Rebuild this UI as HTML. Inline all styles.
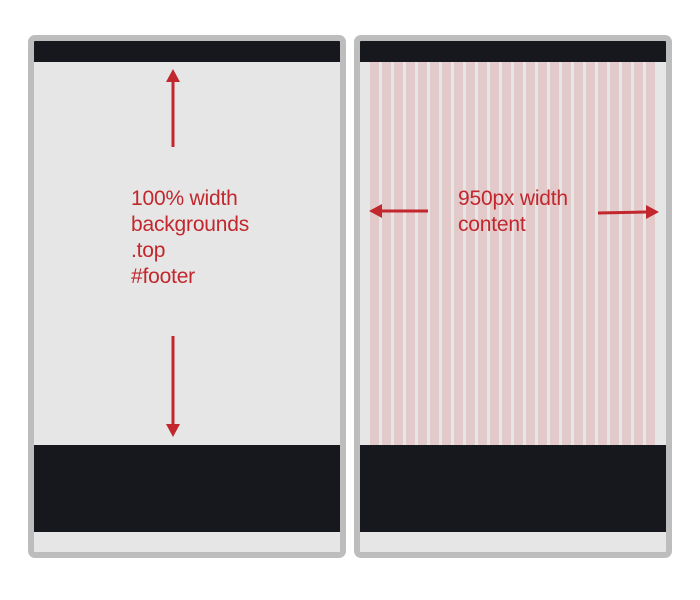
<!DOCTYPE html>
<html><head><meta charset="utf-8"><style>
body{margin:0;width:700px;height:600px;background:#fff;position:relative;overflow:hidden;font-family:"Liberation Sans",sans-serif}
.panel{position:absolute;top:35px;width:306px;height:511px;border:6px solid #bdbdbd;border-radius:7px;background:#e6e6e6;overflow:hidden}
.bar{position:absolute;left:0;width:100%;background:#16181d}
.stripe{position:absolute;top:21px;height:383px;width:9px;background:#e2caca}
.txt{position:absolute;color:#c1272d;font-size:21px;line-height:26px;letter-spacing:-0.2px}
svg{position:absolute;left:0;top:0}
</style></head><body>
<div class="panel" style="left:28px">
 <div class="bar" style="top:0;height:21px"></div>
 <div class="bar" style="top:404px;height:87px"></div>
</div>
<div class="panel" style="left:354px">
 <div class="bar" style="top:0;height:21px"></div>
 <div id="stripes"></div>
 <div class="bar" style="top:404px;height:87px"></div>
</div>
<div class="txt" style="left:131px;top:186px">100% width<br>backgrounds<br>.top<br>#footer</div>
<div class="txt" style="left:458px;top:186px">950px width<br>content</div>
<svg width="700" height="600">
 <g stroke="#c1272d" stroke-width="3" fill="#c1272d">
  <line x1="173" y1="147" x2="173" y2="82"/><polygon points="166,82 180,82 173,69" stroke="none"/>
  <line x1="173" y1="336" x2="173" y2="424"/><polygon points="166,424 180,424 173,437" stroke="none"/>
  <line x1="428" y1="211" x2="382" y2="211"/><polygon points="382,204 382,218 369,211" stroke="none"/>
  <line x1="598" y1="213" x2="646" y2="212"/><polygon points="646,205 646,219 659,212" stroke="none"/>
 </g>
</svg>
<script>
var s=document.getElementById('stripes');
for(var i=0;i<24;i++){var d=document.createElement('div');d.className='stripe';d.style.left=(10+i*12)+'px';


s.appendChild(d);}
</script>
</body></html>
